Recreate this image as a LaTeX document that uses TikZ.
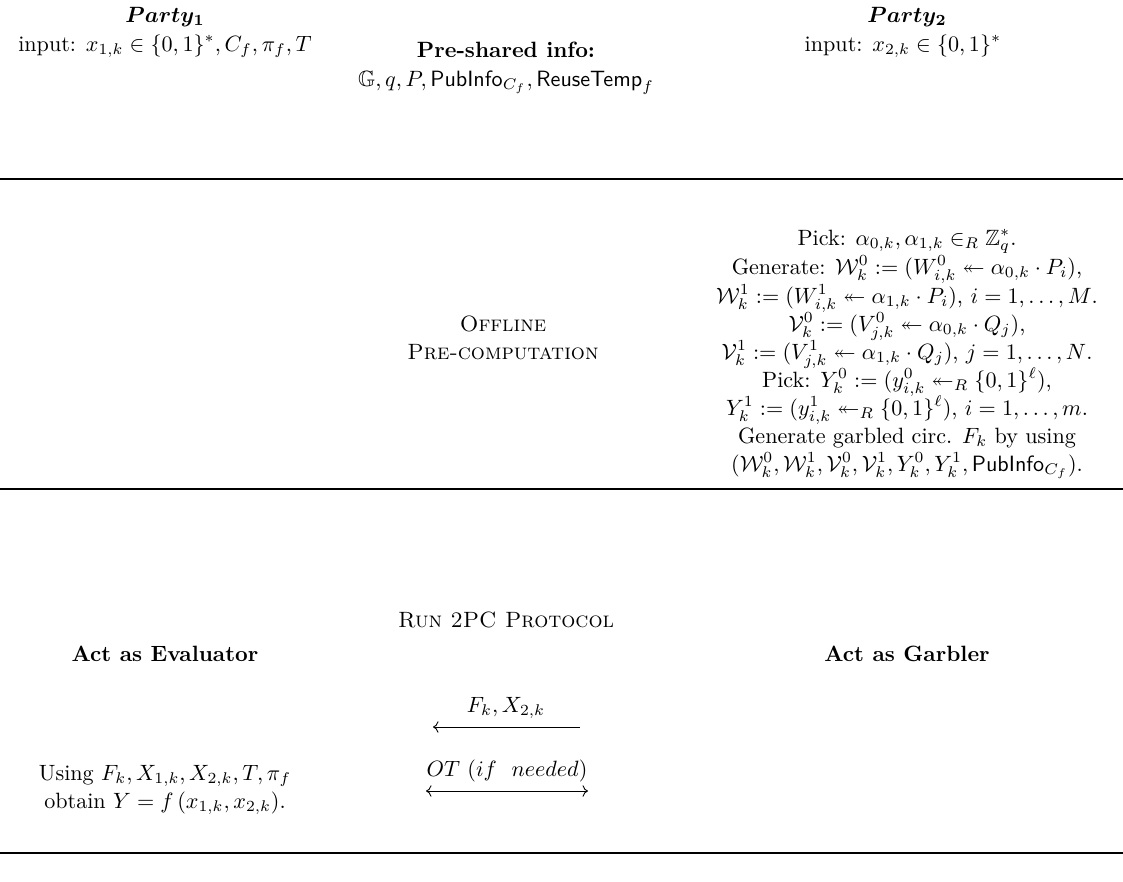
\documentclass[tikz,border=0pt]{standalone}
\usepackage{amsmath,amssymb}
\usepackage{tikz}
\usetikzlibrary{arrows.meta, positioning}

\newcommand{\pubinfo}{\mathsf{PubInfo}}
\newcommand{\reusetemp}{\mathsf{ReuseTemp}}

\begin{document}
\begin{tikzpicture}[
    x=0.01589cm, y=-0.01589cm,
    txt/.style={inner sep=0pt, anchor=base, align=center},
    head/.style={txt, font=\bfseries},
    rule/.style={line width=0.5pt},
    msg/.style={line width=0.4pt}
]
\useasboundingbox (0,0) rectangle (1123,881);

% parties and shared info
\node[txt] (p1) at (165,22) {$\boldsymbol{Party_1}$};
\node[txt] (in1) at (165,51) {input: $x_{1,k}\in\{0,1\}^*, C_f, \pi_f, T$};
\node[head] (shared) at (506,57) {Pre-shared info:};
\node[txt] (sharedval) at (506,86) {$\mathbb{G}, q, P, \pubinfo_{C_f}, \reusetemp_f$};
\node[txt] (p2) at (907,22) {$\boldsymbol{Party_2}$};
\node[txt] (in2) at (903,51) {input: $x_{2,k}\in\{0,1\}^*$};

\draw[rule] (0,179) -- (1123,179);

% offline phase
\node[txt] (off1) at (503,331) {\textsc{Offline}};
\node[txt] (off2) at (503,359) {\textsc{Pre-computation}};

\node[txt] (g1) at (907,245) {Pick: $\alpha_{0,k},\alpha_{1,k}\in_R\mathbb{Z}_q^*$.};
\node[txt] (g2) at (907,274) {Generate: $\mathcal{W}_k^0 := (W_{i,k}^0 \twoheadleftarrow \alpha_{0,k}\cdot P_i)$,};
\node[txt] (g3) at (907,303) {$\mathcal{W}_k^1 := (W_{i,k}^1 \twoheadleftarrow \alpha_{1,k}\cdot P_i)$, $i=1,\ldots,M$.};
\node[txt] (g4) at (907,331) {$\mathcal{V}_k^0 := (V_{j,k}^0 \twoheadleftarrow \alpha_{0,k}\cdot Q_j)$,};
\node[txt] (g5) at (907,359) {$\mathcal{V}_k^1 := (V_{j,k}^1 \twoheadleftarrow \alpha_{1,k}\cdot Q_j)$, $j=1,\ldots,N$.};
\node[txt] (g6) at (907,387) {Pick: $Y_k^0 := (y_{i,k}^0 \twoheadleftarrow_R \{0,1\}^\ell)$,};
\node[txt] (g7) at (907,415) {$Y_k^1 := (y_{i,k}^1 \twoheadleftarrow_R \{0,1\}^\ell)$, $i=1,\ldots,m$.};
\node[txt] (g8) at (907,443) {Generate garbled circ. $F_k$ by using};
\node[txt] (g9) at (907,471) {$(\mathcal{W}_k^0,\mathcal{W}_k^1,\mathcal{V}_k^0,\mathcal{V}_k^1,Y_k^0,Y_k^1,\pubinfo_{C_f})$.};

\draw[rule] (0,489) -- (1123,489);

% online phase
\node[txt] (run) at (506,627) {\textsc{Run 2PC Protocol}};
\node[head] (eval) at (165,661) {Act as Evaluator};
\node[head] (garb) at (907,661) {Act as Garbler};

\node[txt] (fklbl) at (506,712) {$F_k, X_{2,k}$};
\coordinate (fkL) at (433,727);
\coordinate (fkR) at (580,727);
\draw[msg, {Computer Modern Rightarrow}-] (fkL) -- (fkR);

\node[txt] (otlbl) at (507,776) {$OT\ (if\ \ needed)$};
\coordinate (otL) at (426,791);
\coordinate (otR) at (588,791);
\draw[msg, {Computer Modern Rightarrow}-{Computer Modern Rightarrow}] (otL) -- (otR);

\node[txt] (use) at (165,780) {Using $F_k, X_{1,k}, X_{2,k}, T, \pi_f$};
\node[txt] (obt) at (165,808) {obtain $Y=f\left(x_{1,k},x_{2,k}\right)$.};

\draw[rule] (0,853) -- (1123,853);
\end{tikzpicture}
\end{document}
